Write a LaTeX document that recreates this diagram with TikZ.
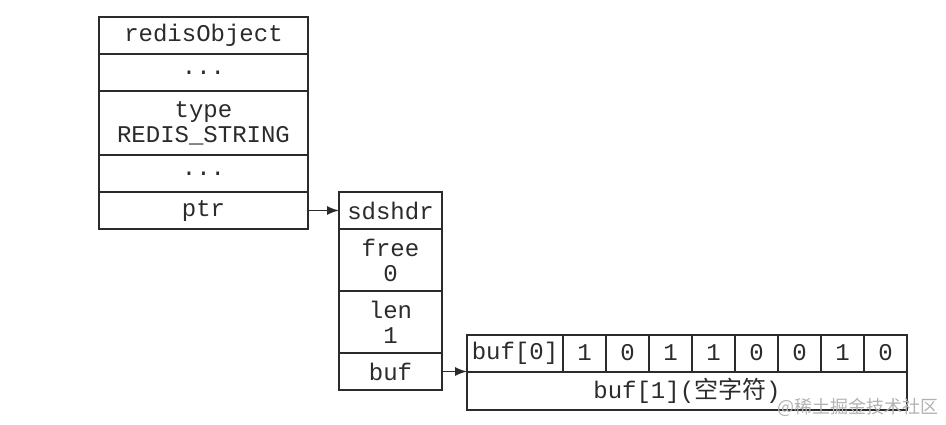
\documentclass[tikz,border=0pt]{standalone}
\usepackage{fontspec}
\setmonofont{Liberation Mono}
\newfontfamily\cjk{Noto Sans CJK SC}
\usetikzlibrary{arrows.meta,positioning}
\definecolor{ink}{HTML}{2B2B2B}
\tikzset{%
  >={Latex[width=9pt,length=12pt]},
  % Specifications for style of nodes:
        cell/.style = {rectangle, draw=ink, line width=2pt, inner sep=0pt,
                       outer sep=0pt, align=center, text=ink,
                       font=\ttfamily\fontsize{24}{25}\selectfont},
     objCell/.style = {cell, minimum width=209pt},
     sdsCell/.style = {cell, minimum width=103pt},
     bitCell/.style = {cell, minimum width=43pt, minimum height=37pt},
}

\begin{document}
\begin{tikzpicture}[x=1pt, y=1pt, node distance=0pt]
  \useasboundingbox (0,0) rectangle (946,-424);
  % Specification of nodes (position, etc.)
  \node (obj)      [objCell, minimum height=37pt] at (203.5,-35.5) {redisObject};
  \node (objDotsA) [objCell, minimum height=37pt, below=of obj]      {...};
  \node (objType)  [objCell, minimum height=64pt, below=of objDotsA] {type\\REDIS\_STRING};
  \node (objDotsB) [objCell, minimum height=37pt, below=of objType]  {...};
  \node (objPtr)   [objCell, minimum height=37pt, below=of objDotsB] {ptr};

  \node (sdsHdr)   [sdsCell, minimum height=37pt, right=31pt of objPtr] {sdshdr};
  \node (sdsFree)  [sdsCell, minimum height=62pt, below=of sdsHdr]  {free\\0};
  \node (sdsLen)   [sdsCell, minimum height=62pt, below=of sdsFree] {len\\1};
  \node (sdsBuf)   [sdsCell, minimum height=37pt, below=of sdsLen]  {buf};

  \node (bit0)     [bitCell, minimum width=96pt,
                    above right=0pt and 25pt of sdsBuf.east] {buf[0]};
  \foreach \b [count=\i, remember=\i as \j (initially 0)] in {1,0,1,1,0,0,1,0}
    \node (bit\i)  [bitCell, right=of bit\j] {\b};
  \node (bufOne)   [cell, minimum width=440pt, minimum height=38pt,
                    below right=0pt and 0pt of bit0.south west]
                                                 {buf[1]({\cjk 空字符})};

  \node (watermark) at (858,-407) [text=gray!60,
                    font=\cjk\fontsize{18}{18}\selectfont] {@稀土掘金技术社区};

  % Specification of lines between nodes specified above
  \draw[->, draw=ink, line width=1.4pt] (objPtr) -- (sdsHdr);
  \draw[->, draw=ink, line width=1.4pt] (sdsBuf) -- (bit0.south west);
\end{tikzpicture}
\end{document}
